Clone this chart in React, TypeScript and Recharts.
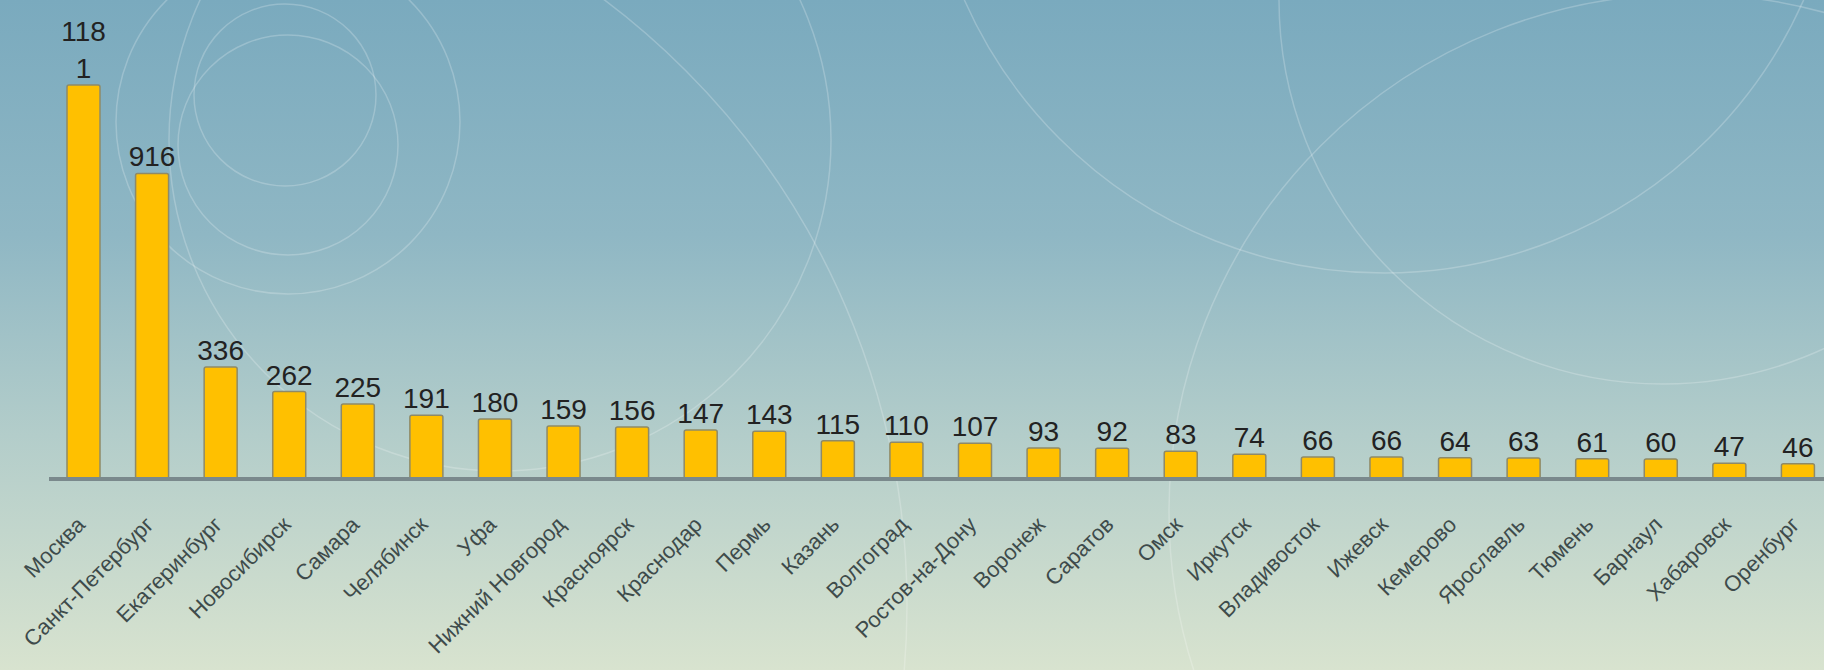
import { BarChart, Bar, XAxis, YAxis, LabelList } from "recharts";

const cities = [
  "Москва", "Санкт-Петербург", "Екатеринбург", "Новосибирск", "Самара", "Челябинск",
  "Уфа", "Нижний Новгород", "Красноярск", "Краснодар", "Пермь", "Казань", "Волгоград",
  "Ростов-на-Дону", "Воронеж", "Саратов", "Омск", "Иркутск", "Владивосток", "Ижевск",
  "Кемерово", "Ярославль", "Тюмень", "Барнаул", "Хабаровск", "Оренбург",
];
const counts = [
  1181, 916, 336, 262, 225, 191, 180, 159, 156, 147, 143, 115, 110,
  107, 93, 92, 83, 74, 66, 66, 64, 63, 61, 60, 47, 46,
];

const data = cities.map((city, i) => ({ city, count: counts[i] }));

// decorative rings of the background (not data)
const rings = [
  { cx: 285, cy: 95, r: 91 },
  { cx: 288, cy: 145, r: 110 },
  { cx: 288, cy: 122, r: 172 },
  { cx: 500, cy: 140, r: 331 },
  { cx: 151, cy: 605, r: 756 },
  { cx: 1384, cy: -186, r: 459 },
  { cx: 1663, cy: 0, r: 384 },
  { cx: 1687, cy: 512, r: 518 },
];

const W = 1840;
const H = 670;

function ValueLabel(props: any) {
  const { x, y, width, value } = props;
  const s = String(value);
  const lines: string[] = [];
  for (let i = 0; i < s.length; i += 3) lines.push(s.slice(i, i + 3));
  const cx = x + width / 2;
  const base = y - 7;
  return (
    <text x={cx} y={base} textAnchor="middle" fontSize={28} fill="#222" fontFamily="'Liberation Sans', Arial, sans-serif">
      {lines.map((l, i) => (
        <tspan key={i} x={cx} y={base - (lines.length - 1 - i) * 37}>
          {l}
        </tspan>
      ))}
    </text>
  );
}

function CityTick(props: any) {
  const { x, y, payload } = props;
  return (
    <g transform={`translate(${x + 3},${y + 47})`}>
      <text transform="rotate(-45)" textAnchor="end" fontSize={22} fill="#3e4b4b" fontFamily="'Liberation Sans', Arial, sans-serif">
        {payload.value}
      </text>
    </g>
  );
}

export default function App() {
  return (
    <div
      style={{
        position: "fixed",
        left: 0,
        top: 0,
        width: 1824,
        height: 670,
        overflow: "hidden",
        background: "linear-gradient(to bottom, #7aaabe 0%, #8fb7c4 35%, #b3cdca 65%, #d8e3cf 100%)",
      }}
    >
      <svg width={1824} height={670} style={{ position: "absolute", left: 0, top: 0 }}>
        {rings.map((c, i) => (
          <circle key={i} cx={c.cx} cy={c.cy} r={c.r} fill="none" stroke="#ffffff" strokeOpacity={0.22} strokeWidth={1.5} />
        ))}
      </svg>
      <div style={{ position: "absolute", left: 0, top: 0 }}>
        <BarChart width={W} height={H} data={data} margin={{ top: 12, right: 8, left: 49, bottom: 41 }}>
          <YAxis
            type="number"
            domain={[0, 1400]}
            width={0}
            tick={false}
            tickLine={false}
            axisLine={{ stroke: "#6f7f83", strokeWidth: 3 }}
          />
          <XAxis
            dataKey="city"
            interval={0}
            height={150}
            tickSize={0}
            tickMargin={0}
            tickLine={false}
            axisLine={{ stroke: "#7a898c", strokeWidth: 4 }}
            tick={<CityTick />}
          />
          <Bar dataKey="count" barSize={33} fill="#ffc000" stroke="#8e8a68" strokeWidth={1.5} radius={2} isAnimationActive={false}>
            <LabelList dataKey="count" content={<ValueLabel />} />
          </Bar>
        </BarChart>
      </div>
    </div>
  );
}
